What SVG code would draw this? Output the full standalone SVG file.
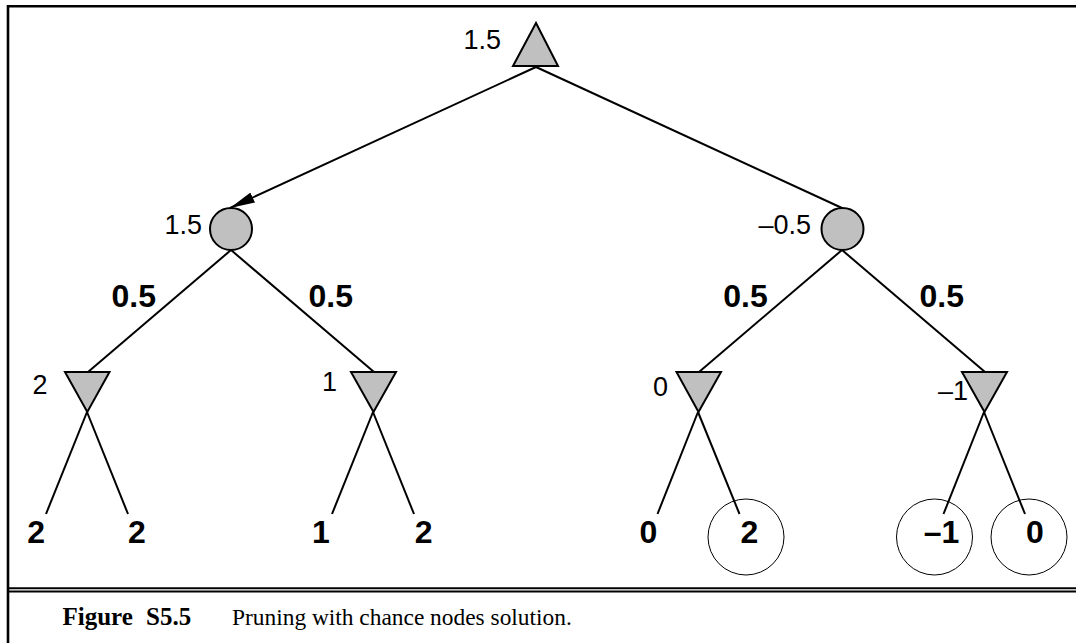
<svg xmlns="http://www.w3.org/2000/svg" width="1076" height="643" viewBox="0 0 1076 643">
<style>
.edge{stroke:#000;stroke-width:2;fill:none}
.node{fill:#c0c0c0;stroke:#000;stroke-width:2}
.val{font-family:"Liberation Sans",Arial,sans-serif;font-size:27px;fill:#000;text-anchor:end}
.prob{font-family:"Liberation Sans",Arial,sans-serif;font-size:32px;font-weight:bold;fill:#000;text-anchor:middle}
.leaf{font-family:"Liberation Sans",Arial,sans-serif;font-size:32px;font-weight:bold;fill:#000;text-anchor:middle}
.ring{fill:none;stroke:#000;stroke-width:1}
.frame{stroke:#000;fill:none}
.cap{font-family:"Liberation Serif","Times New Roman",serif;font-size:23.4px;fill:#000}
.capb{font-family:"Liberation Serif","Times New Roman",serif;font-size:25px;font-weight:bold;fill:#000}
</style>
<defs>
<marker id="arr" viewBox="0 0 25 11" refX="25" refY="5.5" markerWidth="25" markerHeight="11" markerUnits="userSpaceOnUse" orient="auto">
<path d="M0,0 L25,5.5 L0,11 z" fill="#000"/>
</marker>
</defs>
<rect width="1076" height="643" fill="#fff"/>
<g id="frame">
<line class="frame" x1="7" y1="6.3" x2="1076" y2="6.3" stroke-width="2.6"/>
<line class="frame" x1="8" y1="5" x2="8" y2="643" stroke-width="2.6"/>
<line class="frame" x1="8" y1="588.3" x2="1076" y2="588.3" stroke-width="2"/>
<line class="frame" x1="8" y1="591.5" x2="1076" y2="591.5" stroke-width="2"/>
</g>
<g id="connectors">
<line class="edge" x1="536" y1="67" x2="230" y2="208" marker-end="url(#arr)"/>
<line class="edge" x1="536" y1="67" x2="842" y2="208"/>
<line class="edge" x1="231" y1="250" x2="88" y2="372"/>
<line class="edge" x1="231" y1="250" x2="374" y2="372"/>
<line class="edge" x1="842" y1="250" x2="699" y2="372"/>
<line class="edge" x1="842" y1="250" x2="985" y2="372"/>
<line class="edge" x1="87" y1="412" x2="46" y2="514"/>
<line class="edge" x1="87" y1="412" x2="128" y2="514"/>
<line class="edge" x1="373" y1="412" x2="332" y2="514"/>
<line class="edge" x1="373" y1="412" x2="414" y2="514"/>
<line class="edge" x1="698" y1="412" x2="657.5" y2="514"/>
<line class="edge" x1="698" y1="412" x2="739.5" y2="514"/>
<line class="edge" x1="984" y1="412" x2="943.5" y2="514"/>
<line class="edge" x1="984" y1="412" x2="1025" y2="514"/>
</g>
<g id="root">
<polygon class="node" points="536,23 513,66 558,66"/>
<text class="val" x="501" y="49">1.5</text>
</g>
<g id="chanceL">
<circle class="node" cx="231" cy="229" r="21"/>
<text class="val" x="202" y="234">1.5</text>
<text class="prob" x="133.7" y="306.5">0.5</text>
<text class="prob" x="330.8" y="306.5">0.5</text>
</g>
<g id="chanceR">
<circle class="node" cx="842.5" cy="229" r="21"/>
<text class="val" x="811" y="234">–0.5</text>
<text class="prob" x="745.5" y="306.5">0.5</text>
<text class="prob" x="941.7" y="306.5">0.5</text>
</g>
<g id="min1">
<polygon class="node" points="65,372 109.5,372 87.3,412"/>
<text class="val" x="47.5" y="394">2</text>
</g>
<g id="min2">
<polygon class="node" points="351,372 396,372 373.5,412"/>
<text class="val" x="337" y="391">1</text>
</g>
<g id="min3">
<polygon class="node" points="676.5,372 721,372 698.5,412"/>
<text class="val" x="668" y="396">0</text>
</g>
<g id="min4">
<polygon class="node" points="962,372 1007,372 984.5,412"/>
<text class="val" x="968" y="400">–1</text>
</g>
<g id="leaf1"><text class="leaf" x="36.2" y="543.3">2</text></g>
<g id="leaf2"><text class="leaf" x="137" y="543.3">2</text></g>
<g id="leaf3"><text class="leaf" x="321" y="543.3">1</text></g>
<g id="leaf4"><text class="leaf" x="423.7" y="543.3">2</text></g>
<g id="leaf5"><text class="leaf" x="648.3" y="543.3">0</text></g>
<g id="leaf6"><circle class="ring" cx="746" cy="537" r="38"/><text class="leaf" x="749.5" y="543.3">2</text></g>
<g id="leaf7"><circle class="ring" cx="934.5" cy="537" r="38"/><text class="leaf" x="941.5" y="543.3">–1</text></g>
<g id="leaf8"><circle class="ring" cx="1029" cy="537" r="38"/><text class="leaf" x="1035" y="543.3">0</text></g>
<g id="caption">
<text class="capb" x="62.5" y="625">Figure</text>
<text class="capb" x="146" y="625">S5.5</text>
<text class="cap" x="232" y="625">Pruning with chance nodes solution.</text>
</g>
</svg>
